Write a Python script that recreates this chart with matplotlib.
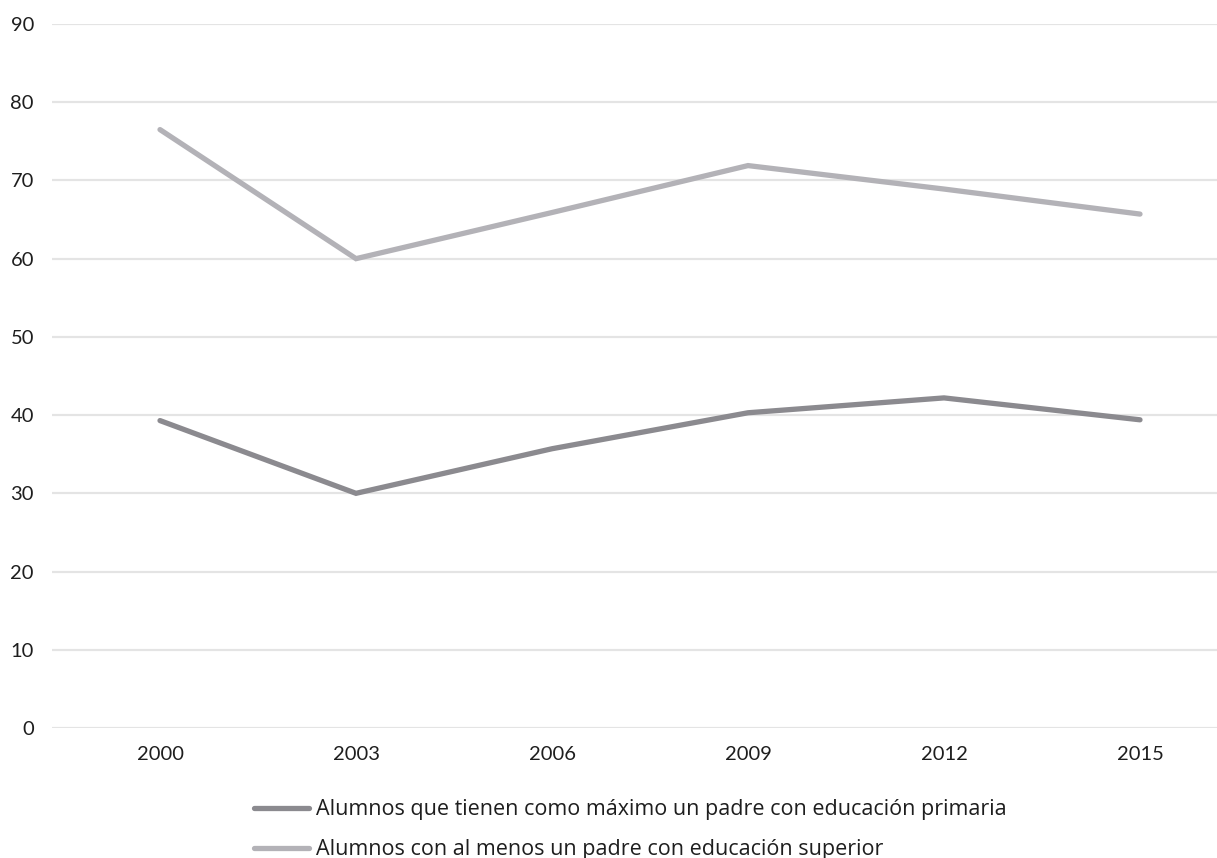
import matplotlib.pyplot as plt

# datos
years = ['2000', '2003', '2006', '2009', '2012', '2015']
primaria = [39.3, 30.0, 35.7, 40.3, 42.2, 39.4]
superior = [76.5, 60.0, 65.9, 71.9, 68.9, 65.7]
labels = ['Alumnos que tienen como máximo un padre con educación primaria',
          'Alumnos con al menos un padre con educación superior']
yticks = [0, 10, 20, 30, 40, 50, 60, 70, 80, 90]

plt.rcParams['font.family'] = ['Lato', 'DejaVu Sans']

fig = plt.figure(figsize=(12.17, 8.58), dpi=100)
ax = fig.add_axes([52 / 1217, 1 - 728 / 858, 1 - 52 / 1217, (728 - 24) / 858])

x = list(range(len(years)))
l1, = ax.plot(x, primaria, color='#8b8a8f', lw=3.8, solid_capstyle='round', solid_joinstyle='miter')
l2, = ax.plot(x, superior, color='#b3b2b7', lw=3.8, solid_capstyle='round', solid_joinstyle='miter')

ax.set_ylim(0, 90)
ax.set_xlim(-108 / 196, (1217 - 160) / 196)
ax.set_yticks(yticks)
ax.set_xticks(x)
ax.set_xticklabels(years)
ax.grid(axis='y', color='#e4e4e4', lw=1.6)
ax.set_axisbelow(True)
for s in ax.spines.values():
    s.set_visible(False)
ax.tick_params(length=0, labelsize=14.5, colors='#1e1e1e')
ax.tick_params(axis='y', pad=13)
ax.tick_params(axis='x', pad=13)

# leyenda abajo
leg = fig.legend([l1, l2], labels, loc='upper left', bbox_to_anchor=(235 / 1217, 1 - 780 / 858),
                 frameon=False, handlelength=2.55, handletextpad=0.3, labelspacing=0.88,
                 labelcolor='#1e1e1e', prop={'family': ['Open Sans', 'DejaVu Sans'], 'size': 15.5})

fig.savefig('out.png', dpi=100)
